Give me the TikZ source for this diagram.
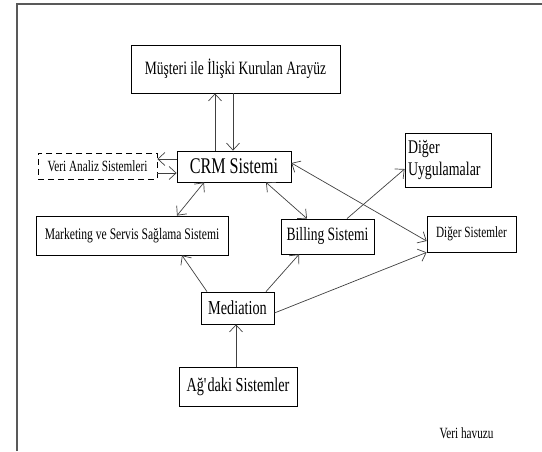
\documentclass[tikz,border=0pt]{standalone}
\usepackage{fontspec}
\setmainfont{Liberation Serif}[FakeStretch=0.72]
\usetikzlibrary{positioning, arrows.meta}

\begin{document}
\begin{tikzpicture}[x=1pt, y=-1pt,
  box/.style={draw=black, line width=0.8pt, inner sep=3pt, align=center},
  con/.style={draw=black!75, line width=0.7pt},
  tip/.style={-{Straight Barb[length=7pt,width=13pt]}},
  tips/.style={{Straight Barb[length=7pt,width=13pt]}-{Straight Barb[length=7pt,width=13pt]}}]
\useasboundingbox (0,0) rectangle (542,451);
\draw [draw=black!65, line width=1.2pt] (17,451) -- (17,4) -- (542,4);

\node [box, minimum width=209pt, minimum height=48pt, font=\fontsize{18.8pt}{21pt}\selectfont] (mus) at (235.5,69) {Müşteri ile İlişki Kurulan Arayüz};
\node [box, minimum width=114pt, minimum height=31pt, font=\fontsize{22.4pt}{24pt}\selectfont] (crm) at (234,166.5) {CRM Sistemi};
\node [box, dash pattern=on 6pt off 4pt, minimum width=119pt, minimum height=26pt, font=\fontsize{15.6pt}{17pt}\selectfont] (veri) at (97.5,166) {Veri Analiz Sistemleri};
\node [box, minimum width=192pt, minimum height=39pt, font=\fontsize{16.1pt}{18pt}\selectfont] (mkt) at (132,235.5) {Marketing ve Servis Sağlama Sistemi};
\node [box, minimum width=93pt, minimum height=35pt, font=\fontsize{18.8pt}{21pt}\selectfont] (bill) at (327.5,236.5) {Billing Sistemi};
\node [box, minimum width=89pt, minimum height=36pt, font=\fontsize{15.6pt}{17pt}\selectfont] (dsys) at (471.5,234) {Diğer Sistemler};
\node [box, align=left, text width=80pt, minimum height=54pt, font=\fontsize{19.3pt}{22pt}\selectfont] (dapp) at (448,160) {Diğer\\Uygulamalar};
\node [box, minimum width=73pt, minimum height=32pt, font=\fontsize{19.8pt}{22pt}\selectfont] (med) at (237.5,308) {Mediation};
\node [box, minimum width=118pt, minimum height=39pt, font=\fontsize{19.8pt}{22pt}\selectfont] (ag) at (238,386.5) {Ağ\textquotesingle daki Sistemler};
\node [font=\fontsize{15.6pt}{17pt}\selectfont] (havuz) at (466.5,433) {Veri havuzu};

\draw [con, tip] ([xshift=-19pt]crm.north) -- ([xshift=-19pt]crm.north |- mus.south);
\draw [con, tip] ([xshift=-1pt]crm.north |- mus.south) -- ([xshift=-1pt]crm.north);
\draw [con, tip] ([yshift=7.5pt]crm.west) -- ([yshift=7.5pt]crm.west -| veri.east);
\draw [con, tip] ([yshift=-6.5pt]crm.west -| veri.east) -- ([yshift=-6.5pt]crm.west);
\draw [con, tips] ([xshift=-30pt]crm.south) -- ([xshift=45pt]mkt.north);
\draw [con, tips] ([xshift=32pt]crm.south) -- ([xshift=-20.5pt]bill.north);
\draw [con, tips] ([yshift=3.5pt]crm.east) -- ([yshift=-7pt]dsys.west);
\draw [con, tip] ([xshift=19.5pt]bill.north) -- ([yshift=-9pt]dapp.west);
\draw [con, tip] ([xshift=-30.5pt]med.north) -- ([xshift=50pt]mkt.south);
\draw [con, tip] ([xshift=28.5pt]med.north) -- ([xshift=-28.5pt]bill.south);
\draw [con, tip] ([yshift=-5pt]med.east) -- (dsys.south west);
\draw [con, tip] ([xshift=-2pt]ag.north) -- ([xshift=-2pt]ag.north |- med.south);
\end{tikzpicture}
\end{document}
